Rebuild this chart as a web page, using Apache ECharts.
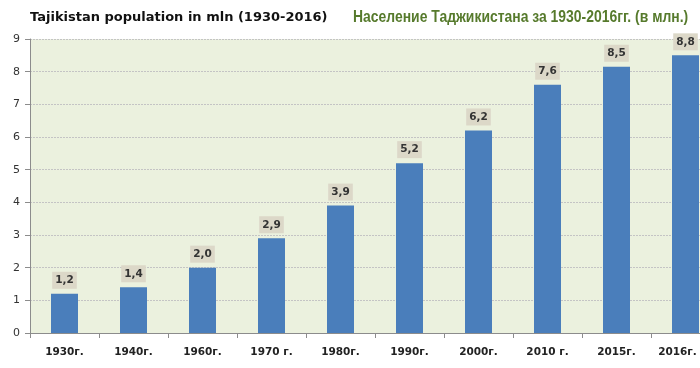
<!DOCTYPE html>
<html><head><meta charset="utf-8">
<script src="https://cdn.jsdelivr.net/npm/echarts@6/dist/echarts.min.js"></script>
<style>html,body{margin:0;padding:0;background:#fff;overflow:hidden}#c{width:720px;height:368px}</style>
</head><body><div id="c"></div>
<script>
const categories = ['1930г.','1940г.','1960г.','1970 г.','1980г.','1990г.','2000г.','2010 г.','2015г.','2016г.'];
const barValues = [1.2, 1.4, 2.0, 2.9, 3.9, 5.2, 6.2, 7.6, 8.15, 8.5];
const labelTexts = ['1,2','1,4','2,0','2,9','3,9','5,2','6,2','7,6','8,5','8,8'];
const yTicks = [0,1,2,3,4,5,6,7,8,9];

const chart = echarts.init(document.getElementById('c'), null, {renderer:'canvas'});
chart.setOption({
  animation:false,
  backgroundColor:'#fff',
  title:[
    {text:'Tajikistan population in mln (1930-2016)', left:30, top:11, padding:0,
     textStyle:{fontFamily:'DejaVu Sans', fontWeight:'bold', fontSize:13, color:'#111'}}
  ],
  graphic:[{type:'text', left:353, top:10, scaleX:0.87,
    style:{text:'Население Таджикистана за 1930-2016гг. (в млн.)',
      font:'bold 16px "Liberation Sans", Arial, sans-serif', fill:'#567a2c'}}],
  grid:{left:30, right:0, top:39, bottom:35, show:true, backgroundColor:'#ebf1de', borderWidth:0},
  xAxis:{type:'category', data:categories,
    axisLine:{lineStyle:{color:'#8c8c8c'}},
    axisTick:{show:true, interval:0, length:5, lineStyle:{color:'#8c8c8c'}},
    axisLabel:{interval:0, hideOverlap:false, fontFamily:'DejaVu Sans', fontWeight:'bold', fontSize:10.5, color:'#222', margin:14,
      formatter:(v,i)=> i===categories.length-1 ? '{last|'+v+'}' : v,
      rich:{last:{fontFamily:'DejaVu Sans', fontWeight:'bold', fontSize:10.5, color:'#222', padding:[0,16,0,0]}}}},
  yAxis:{type:'value', min:0, max:9, interval:1,
    axisLine:{show:true, lineStyle:{color:'#8c8c8c'}},
    axisTick:{show:true, length:5, lineStyle:{color:'#8c8c8c'}},
    axisLabel:{fontFamily:'DejaVu Sans', fontSize:11, color:'#333', margin:10,
      formatter:v=>yTicks.includes(v)?String(v):''},
    splitLine:{lineStyle:{color:'#c4c4c4', type:[2,1]}}},
  series:[{type:'bar', data:barValues, barWidth:27,
    itemStyle:{color:'#4a7ebb'},
    label:{show:true, position:'top', distance:5,
      formatter:p=>labelTexts[p.dataIndex],
      fontFamily:'DejaVu Sans', fontWeight:'bold', fontSize:10.5, color:'#333',
      backgroundColor:'#dcd8c8', padding:[3,3,3,3]}}]
});
</script></body></html>
